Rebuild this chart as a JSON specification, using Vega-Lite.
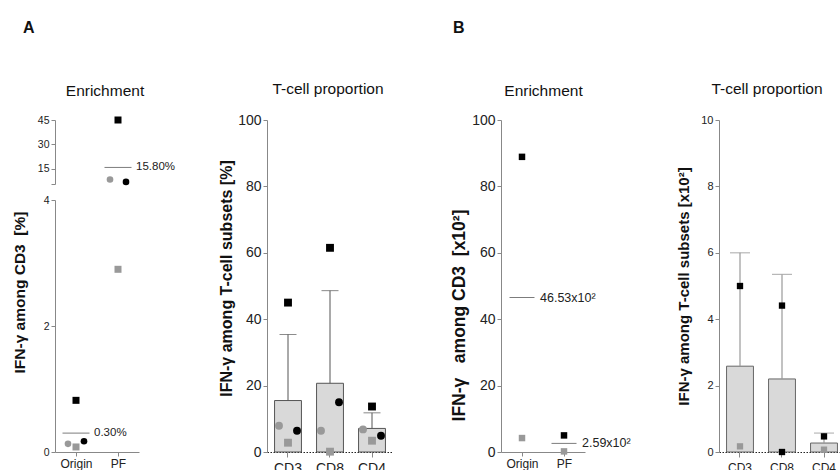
{
  "$schema": "https://vega.github.io/schema/vega-lite/v6.json",
  "background": "white",
  "padding": {"left": 12, "top": 20, "right": 0, "bottom": 0},
  "datasets": {
    "ptsA1": [
      {"group": "Origin", "donor": "D1", "value": 0.82},
      {"group": "Origin", "donor": "D2", "value": 0.17},
      {"group": "Origin", "donor": "D3", "value": 0.13},
      {"group": "Origin", "donor": "D4", "value": 0.08},
      {"group": "PF", "donor": "D1", "value": 45},
      {"group": "PF", "donor": "D2", "value": 6.9},
      {"group": "PF", "donor": "D3", "value": 8.4},
      {"group": "PF", "donor": "D4", "value": 2.9}
    ],
    "meanA1": [
      {"group": "Origin", "mean": 0.30, "label": "0.30%"},
      {"group": "PF", "mean": 15.80, "label": "15.80%"}
    ],
    "ptsA2": [
      {"subset": "CD3", "donor": "D1", "value": 45.0},
      {"subset": "CD3", "donor": "D2", "value": 6.4},
      {"subset": "CD3", "donor": "D3", "value": 7.9},
      {"subset": "CD3", "donor": "D4", "value": 2.8},
      {"subset": "CD8", "donor": "D1", "value": 61.5},
      {"subset": "CD8", "donor": "D2", "value": 15.0},
      {"subset": "CD8", "donor": "D3", "value": 6.4},
      {"subset": "CD8", "donor": "D4", "value": 0.1},
      {"subset": "CD4", "donor": "D1", "value": 13.7},
      {"subset": "CD4", "donor": "D2", "value": 4.9},
      {"subset": "CD4", "donor": "D3", "value": 6.8},
      {"subset": "CD4", "donor": "D4", "value": 3.4}
    ],
    "barsA2": [
      {"subset": "CD3", "mean": 15.5, "upper": 35.4},
      {"subset": "CD8", "mean": 20.7, "upper": 48.6},
      {"subset": "CD4", "mean": 7.1, "upper": 11.8}
    ],
    "ptsB1": [
      {"group": "Origin", "donor": "D1", "value": 88.9},
      {"group": "Origin", "donor": "D4", "value": 4.2},
      {"group": "PF", "donor": "D1", "value": 5.0},
      {"group": "PF", "donor": "D4", "value": 0.18}
    ],
    "meanB1": [
      {"group": "Origin", "mean": 46.53, "label": "46.53x10²"},
      {"group": "PF", "mean": 2.59, "label": "2.59x10²"}
    ],
    "ptsB2": [
      {"subset": "CD3", "donor": "D1", "value": 5.0},
      {"subset": "CD3", "donor": "D4", "value": 0.17},
      {"subset": "CD8", "donor": "D1", "value": 4.41},
      {"subset": "CD8", "donor": "D1", "value": 0.0},
      {"subset": "CD4", "donor": "D1", "value": 0.47},
      {"subset": "CD4", "donor": "D4", "value": 0.07}
    ],
    "barsB2": [
      {"subset": "CD3", "mean": 2.585, "upper": 6.0},
      {"subset": "CD8", "mean": 2.2, "upper": 5.35},
      {"subset": "CD4", "mean": 0.27, "upper": 0.57}
    ]
  },
  "spacing": 108,
  "bounds": "flush",
  "hconcat": [
    {
      "width": 104,
      "height": 332,
      "title": {"text": "A", "anchor": "start", "frame": "group", "dx": -32, "fontSize": 16, "fontWeight": "bold", "baseline": "alphabetic", "offset": 34},
      "resolve": {"axis": {"x": "independent"}},
      "layer": [
        {
          "data": {"name": "meanA1"},
          "mark": {"type": "tick", "size": 27, "thickness": 1, "color": "#444"},
          "encoding": {
            "x": {"field": "group", "type": "nominal", "sort": ["Origin", "PF"],
              "scale": {"type": "point", "padding": 0.5, "range": [0, 84]},
              "axis": {"orient": "top", "title": "Enrichment", "labels": false, "ticks": false, "domain": false, "titleFontSize": 15.5, "titleFontWeight": "normal", "titlePadding": 25, "titleBaseline": "alphabetic", "titleX": 49.5}},
            "y": {"field": "mean", "type": "quantitative",
              "scale": {"type": "linear", "domain": [0, 4, 5.6, 45], "range": [332, 80, 64, 0], "nice": false, "zero": false},
              "axis": {"values": [0, 2, 4, 5.6, 15, 30, 45], "labelExpr": "datum.value == 5.6 ? '' : datum.label", "labelFontSize": 10.5, "title": "IFN-γ among CD3\u00a0\u00a0[%]", "titleFontSize": 15.5, "titlePadding": 10, "titleY": 172, "domainDash": [252, 16, 200]}}
          }
        },
        {
          "data": {"name": "meanA1"},
          "mark": {"type": "text", "align": "left", "baseline": "middle", "dx": 18, "fontSize": 11.5, "color": "#222"},
          "encoding": {
            "x": {"field": "group", "type": "nominal", "sort": ["Origin", "PF"], "axis": null},
            "y": {"field": "mean", "type": "quantitative"},
            "text": {"field": "label"}
          }
        },
        {
          "data": {"name": "ptsA1"},
          "transform": [{"filter": "datum.donor == 'D1' || datum.donor == 'D4'"}],
          "mark": {"type": "point", "filled": true, "size": 49, "opacity": 1, "strokeWidth": 0},
          "encoding": {
            "x": {"field": "group", "type": "nominal", "sort": ["Origin", "PF"], "axis": {"title": null, "labelFontSize": 12, "labelAngle": 0, "tickSize": 4, "labelPadding": 2}},
            "y": {"field": "value", "type": "quantitative"},
            "color": {"field": "donor", "type": "nominal", "legend": null, "scale": {"domain": ["D1", "D2", "D3", "D4"], "range": ["#000000", "#000000", "#999999", "#999999"]}},
            "shape": {"field": "donor", "type": "nominal", "legend": null, "scale": {"domain": ["D1", "D2", "D3", "D4"], "range": ["square", "circle", "circle", "square"]}}
          }
        },
        {
          "data": {"name": "ptsA1"},
          "transform": [{"filter": "datum.donor == 'D3'"}],
          "mark": {"type": "point", "filled": true, "size": 44, "opacity": 1, "strokeWidth": 0, "xOffset": -8},
          "encoding": {
            "x": {"field": "group", "type": "nominal", "sort": ["Origin", "PF"], "axis": null},
            "y": {"field": "value", "type": "quantitative"},
            "color": {"field": "donor", "type": "nominal", "legend": null, "scale": {"domain": ["D1", "D2", "D3", "D4"], "range": ["#000000", "#000000", "#999999", "#999999"]}},
            "shape": {"field": "donor", "type": "nominal", "legend": null, "scale": {"domain": ["D1", "D2", "D3", "D4"], "range": ["square", "circle", "circle", "square"]}}
          }
        },
        {
          "data": {"name": "ptsA1"},
          "transform": [{"filter": "datum.donor == 'D2'"}],
          "mark": {"type": "point", "filled": true, "size": 44, "opacity": 1, "strokeWidth": 0, "xOffset": 8},
          "encoding": {
            "x": {"field": "group", "type": "nominal", "sort": ["Origin", "PF"], "axis": null},
            "y": {"field": "value", "type": "quantitative"},
            "color": {"field": "donor", "type": "nominal", "legend": null, "scale": {"domain": ["D1", "D2", "D3", "D4"], "range": ["#000000", "#000000", "#999999", "#999999"]}},
            "shape": {"field": "donor", "type": "nominal", "legend": null, "scale": {"domain": ["D1", "D2", "D3", "D4"], "range": ["square", "circle", "circle", "square"]}}
          }
        }
      ]
    },
    {
      "width": 126,
      "height": 332,
      "title": {"text": "T-cell proportion", "fontSize": 15.5, "fontWeight": "normal", "baseline": "alphabetic", "offset": 4, "dx": -2},
      "layer": [
        {
          "data": {"name": "barsA2"},
          "mark": {"type": "bar", "fill": "#d9d9d9", "stroke": "#555555", "strokeWidth": 1},
          "encoding": {
            "x": {"field": "subset", "type": "nominal", "sort": ["CD3", "CD8", "CD4"],
              "scale": {"paddingInner": 0.36, "paddingOuter": 0.18},
              "axis": {"title": null, "labelAngle": 0, "labelFontSize": 14, "tickSize": 5, "labelPadding": 4, "domainColor": "#222", "domainDash": [1.5, 1.5], "domainWidth": 1.2}},
            "y": {"field": "mean", "type": "quantitative", "scale": {"domain": [0, 100], "nice": false},
              "axis": {"values": [0, 20, 40, 60, 80, 100], "labelFontSize": 14, "title": "IFN-γ among T-cell subsets [%]", "titleFontSize": 16, "titlePadding": 3, "titleY": 158}}
          }
        },
        {
          "data": {"name": "barsA2"},
          "mark": {"type": "rule", "color": "#555555", "strokeWidth": 1},
          "encoding": {
            "x": {"field": "subset", "type": "nominal", "sort": ["CD3", "CD8", "CD4"]},
            "y": {"field": "mean", "type": "quantitative"},
            "y2": {"field": "upper"}
          }
        },
        {
          "data": {"name": "barsA2"},
          "mark": {"type": "tick", "size": 17, "thickness": 1, "color": "#555555"},
          "encoding": {
            "x": {"field": "subset", "type": "nominal", "sort": ["CD3", "CD8", "CD4"]},
            "y": {"field": "upper", "type": "quantitative"}
          }
        },
        {
          "data": {"name": "ptsA2"},
          "transform": [{"filter": "datum.donor == 'D1' || datum.donor == 'D4'"}],
          "mark": {"type": "point", "filled": true, "size": 62, "opacity": 1, "strokeWidth": 0},
          "encoding": {
            "x": {"field": "subset", "type": "nominal", "sort": ["CD3", "CD8", "CD4"]},
            "y": {"field": "value", "type": "quantitative"},
            "color": {"field": "donor", "type": "nominal", "legend": null, "scale": {"domain": ["D1", "D2", "D3", "D4"], "range": ["#000000", "#000000", "#999999", "#999999"]}},
            "shape": {"field": "donor", "type": "nominal", "legend": null, "scale": {"domain": ["D1", "D2", "D3", "D4"], "range": ["square", "circle", "circle", "square"]}}
          }
        },
        {
          "data": {"name": "ptsA2"},
          "transform": [{"filter": "datum.donor == 'D3'"}],
          "mark": {"type": "point", "filled": true, "size": 62, "opacity": 1, "strokeWidth": 0, "xOffset": -9},
          "encoding": {
            "x": {"field": "subset", "type": "nominal", "sort": ["CD3", "CD8", "CD4"]},
            "y": {"field": "value", "type": "quantitative"},
            "color": {"field": "donor", "type": "nominal", "legend": null, "scale": {"domain": ["D1", "D2", "D3", "D4"], "range": ["#000000", "#000000", "#999999", "#999999"]}},
            "shape": {"field": "donor", "type": "nominal", "legend": null, "scale": {"domain": ["D1", "D2", "D3", "D4"], "range": ["square", "circle", "circle", "square"]}}
          }
        },
        {
          "data": {"name": "ptsA2"},
          "transform": [{"filter": "datum.donor == 'D2'"}],
          "mark": {"type": "point", "filled": true, "size": 62, "opacity": 1, "strokeWidth": 0, "xOffset": 9},
          "encoding": {
            "x": {"field": "subset", "type": "nominal", "sort": ["CD3", "CD8", "CD4"]},
            "y": {"field": "value", "type": "quantitative"},
            "color": {"field": "donor", "type": "nominal", "legend": null, "scale": {"domain": ["D1", "D2", "D3", "D4"], "range": ["#000000", "#000000", "#999999", "#999999"]}},
            "shape": {"field": "donor", "type": "nominal", "legend": null, "scale": {"domain": ["D1", "D2", "D3", "D4"], "range": ["square", "circle", "circle", "square"]}}
          }
        }
      ]
    },
    {
      "width": 110,
      "height": 332,
      "title": {"text": "B", "anchor": "start", "frame": "group", "dx": -48, "fontSize": 16, "fontWeight": "bold", "baseline": "alphabetic", "offset": 34},
      "resolve": {"axis": {"x": "independent"}},
      "layer": [
        {
          "data": {"name": "meanB1"},
          "mark": {"type": "tick", "size": 25, "thickness": 1, "color": "#444"},
          "encoding": {
            "x": {"field": "group", "type": "nominal", "sort": ["Origin", "PF"],
              "scale": {"type": "point", "padding": 0.5, "range": [0, 84]},
              "axis": {"orient": "top", "title": "Enrichment", "labels": false, "ticks": false, "domain": false, "titleFontSize": 15.5, "titleFontWeight": "normal", "titlePadding": 25, "titleBaseline": "alphabetic"}},
            "y": {"field": "mean", "type": "quantitative", "scale": {"domain": [0, 100], "nice": false},
              "axis": {"values": [0, 20, 40, 60, 80, 100], "labelFontSize": 14, "title": "IFN-γ\u00a0\u00a0\u00a0among CD3\u00a0\u00a0[x10²]", "titleFontSize": 17.5, "titlePadding": 3, "titleY": 195}}
          }
        },
        {
          "data": {"name": "meanB1"},
          "mark": {"type": "text", "align": "left", "baseline": "middle", "dx": 18, "fontSize": 12.5, "color": "#222"},
          "encoding": {
            "x": {"field": "group", "type": "nominal", "sort": ["Origin", "PF"], "axis": null},
            "y": {"field": "mean", "type": "quantitative"},
            "text": {"field": "label"}
          }
        },
        {
          "data": {"name": "ptsB1"},
          "mark": {"type": "point", "filled": true, "size": 42, "opacity": 1, "strokeWidth": 0},
          "encoding": {
            "x": {"field": "group", "type": "nominal", "sort": ["Origin", "PF"], "axis": {"title": null, "labelFontSize": 12, "labelAngle": 0, "tickSize": 4, "labelPadding": 2}},
            "y": {"field": "value", "type": "quantitative"},
            "color": {"field": "donor", "type": "nominal", "legend": null, "scale": {"domain": ["D1", "D2", "D3", "D4"], "range": ["#000000", "#000000", "#999999", "#999999"]}},
            "shape": {"field": "donor", "type": "nominal", "legend": null, "scale": {"domain": ["D1", "D2", "D3", "D4"], "range": ["square", "circle", "circle", "square"]}}
          }
        }
      ]
    },
    {
      "width": 126,
      "height": 332,
      "title": {"text": "T-cell proportion", "fontSize": 15.5, "fontWeight": "normal", "baseline": "alphabetic", "offset": 5, "dx": -15},
      "layer": [
        {
          "data": {"name": "barsB2"},
          "mark": {"type": "bar", "fill": "#d9d9d9", "stroke": "#666666", "strokeWidth": 1},
          "encoding": {
            "x": {"field": "subset", "type": "nominal", "sort": ["CD3", "CD8", "CD4"],
              "scale": {"paddingInner": 0.36, "paddingOuter": 0.18},
              "axis": {"title": null, "labelAngle": 0, "labelFontSize": 12, "tickSize": 5, "labelPadding": 5, "domainColor": "#222", "domainDash": [1.5, 1.5], "domainWidth": 1.2}},
            "y": {"field": "mean", "type": "quantitative", "scale": {"domain": [0, 10], "nice": false},
              "axis": {"values": [0, 2, 4, 6, 8, 10], "labelFontSize": 11, "title": "IFN-γ among T-cell subsets [x10²]", "titleFontSize": 15, "titlePadding": 9}}
          }
        },
        {
          "data": {"name": "barsB2"},
          "mark": {"type": "rule", "color": "#999999", "strokeWidth": 1.2},
          "encoding": {
            "x": {"field": "subset", "type": "nominal", "sort": ["CD3", "CD8", "CD4"]},
            "y": {"field": "mean", "type": "quantitative"},
            "y2": {"field": "upper"}
          }
        },
        {
          "data": {"name": "barsB2"},
          "mark": {"type": "tick", "size": 20, "thickness": 1.2, "color": "#999999"},
          "encoding": {
            "x": {"field": "subset", "type": "nominal", "sort": ["CD3", "CD8", "CD4"]},
            "y": {"field": "upper", "type": "quantitative"}
          }
        },
        {
          "data": {"name": "ptsB2"},
          "mark": {"type": "point", "filled": true, "size": 40, "opacity": 1, "strokeWidth": 0},
          "encoding": {
            "x": {"field": "subset", "type": "nominal", "sort": ["CD3", "CD8", "CD4"]},
            "y": {"field": "value", "type": "quantitative"},
            "color": {"field": "donor", "type": "nominal", "legend": null, "scale": {"domain": ["D1", "D2", "D3", "D4"], "range": ["#000000", "#000000", "#999999", "#999999"]}},
            "shape": {"field": "donor", "type": "nominal", "legend": null, "scale": {"domain": ["D1", "D2", "D3", "D4"], "range": ["square", "circle", "circle", "square"]}}
          }
        }
      ]
    }
  ],
  "config": {
    "font": "Liberation Sans",
    "view": {"stroke": null},
    "axis": {"grid": false, "domainColor": "#888888", "tickColor": "#888888", "labelColor": "#222222", "titleColor": "#111111", "titleFontWeight": "bold", "tickSize": 4, "labelPadding": 2},
    "title": {"color": "#111111"}
  }
}
